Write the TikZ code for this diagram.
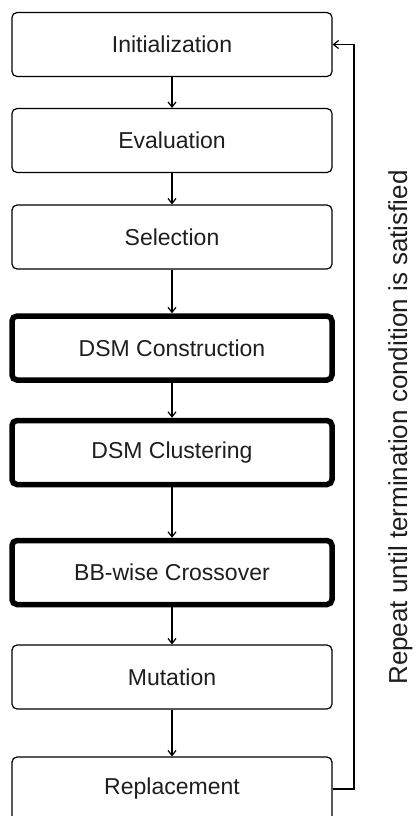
\documentclass[tikz,border=0pt]{standalone}
\usepackage{fontspec}
\setmainfont{Liberation Sans}
\usetikzlibrary{arrows.meta}
\definecolor{txt}{HTML}{1E1E1E}
\begin{document}
\begin{tikzpicture}[x=1pt,y=-1pt,
  box/.style={draw, rounded corners=5pt, minimum width=320pt, minimum height=64pt,
    line width=1.2pt, inner sep=0pt, text=txt, font=\fontsize{23}{26}\selectfont},
  thickbox/.style={box, line width=5.5pt},
  flow/.style={line width=1.2pt, -{Straight Barb[length=5pt,width=8pt]}}]
\useasboundingbox (0,0) rectangle (415,816);
\fill[white] (0,0) rectangle (415,816);
\node[box] (init) at (172,44.5) {Initialization};
\node[box] (eval) at (172,140.5) {Evaluation};
\node[box] (sel) at (172,237) {Selection};
\node[thickbox] (dsmc) at (172,348) {DSM Construction};
\node[thickbox] (clus) at (172,452.5) {DSM Clustering};
\node[thickbox] (bb) at (172,572.5) {BB-wise Crossover};
\node[box] (mut) at (172,677) {Mutation};
\node[box] (rep) at (172,789) {Replacement};
\coordinate (fbx) at (354,0);
\draw[flow] (init) -- (eval);
\draw[flow] (eval) -- (sel);
\draw[flow] (sel) -- (dsmc);
\draw[flow] (dsmc) -- (clus);
\draw[flow] (clus) -- (bb);
\draw[flow] (bb) -- (mut);
\draw[flow] (mut) -- (rep);
\draw[flow] (rep.east) -- (rep.east -| fbx) |- (init.east);
\node[rotate=90, anchor=base, text=txt, font=\fontsize{26}{30}\selectfont] (lbl) at (407,427.5)
  {Repeat until termination condition is satisfied};
\end{tikzpicture}
\end{document}
